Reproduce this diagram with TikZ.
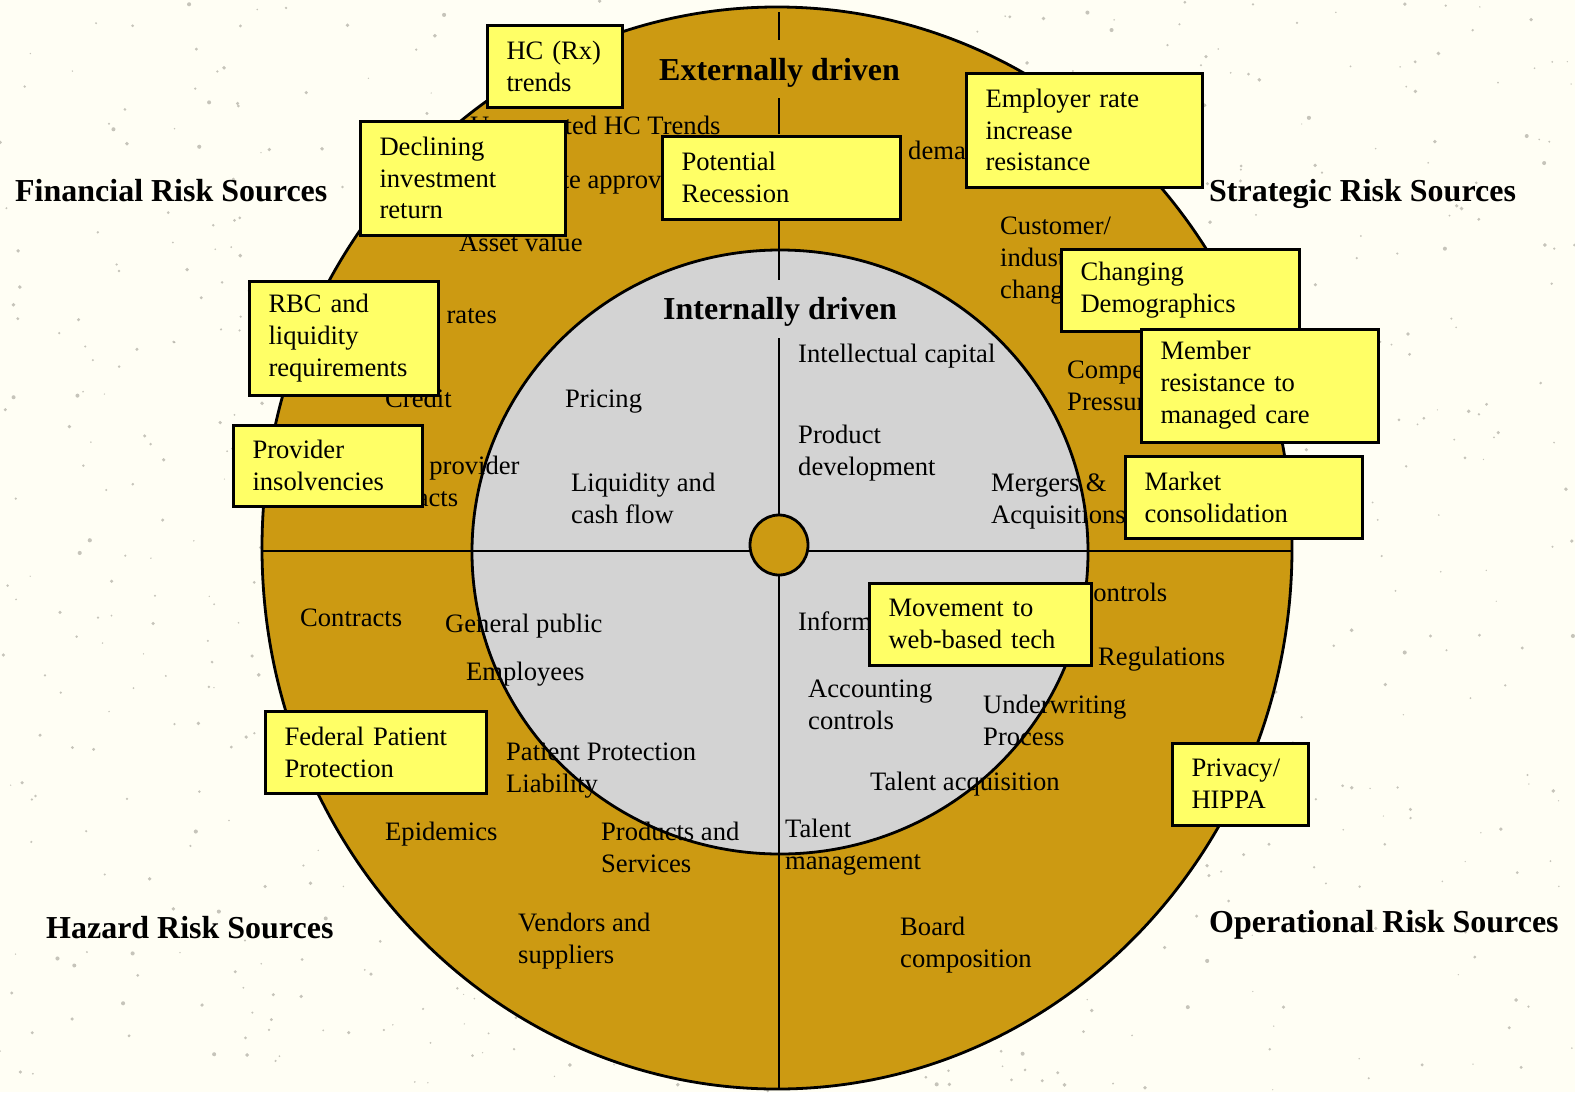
\documentclass[tikz,border=0pt]{standalone}
\usepackage{fontspec}
\setmainfont{Liberation Serif}
\definecolor{gold}{HTML}{CC9A12}
\definecolor{innergrey}{HTML}{D3D3D3}
\definecolor{boxyellow}{HTML}{FFFF66}
\definecolor{bgcream}{HTML}{FFFEF4}
\definecolor{speck}{HTML}{A09E94}
\begin{document}
\begin{tikzpicture}[x=1bp,y=-1bp,
  lbl/.style={font=\fontsize{26.7}{32}\selectfont, inner sep=0pt, anchor=base west, align=left},
  hd/.style={font=\bfseries\fontsize{32.1}{38}\selectfont, inner sep=0pt, anchor=base west},
  ln/.style={line width=2.8bp, draw=black},
  ybox/.style={draw=black, line width=3bp, fill=boxyellow, anchor=north west,
     font=\fontsize{26.7}{32}\selectfont, align=left, inner xsep=19.5bp, inner ysep=0pt}]
\useasboundingbox (0,0) rectangle (1575,1092);
\fill[bgcream] (0,0) rectangle (1575,1092);
% background speckles
\pgfmathsetseed{7}
\foreach \i in {1,...,900}{
  \pgfmathsetmacro\xx{rnd*1575}
  \pgfmathsetmacro\yy{rnd*1092}
  \pgfmathsetmacro\rr{0.6+rnd*1.5}
  \fill[speck, opacity=0.6] (\xx,\yy) circle[radius=\rr bp];
}
% rings
\draw[ln, fill=gold] (777,548) ellipse [x radius=515bp, y radius=541bp];
\draw[ln, fill=innergrey] (780,552) ellipse [x radius=308bp, y radius=302bp];
% axes
\draw[ln] (262,551) -- (1292,551);
\draw[ln] (779,12) -- (779,40);
\draw[ln] (779,98) -- (779,134);
\draw[ln] (779,218) -- (779,280);
\draw[ln] (779,338) -- (779,515);
\draw[ln] (779,575) -- (779,1089);
\draw[ln, fill=gold] (779,545) ellipse [x radius=29bp, y radius=30bp];

% headings
\node[hd] (ext) at (659,80) {Externally driven};
\node[hd] (int) at (663,319) {Internally driven};
\node[hd] (fin) at (15,201) {Financial Risk Sources};
\node[hd] (str) at (1209,201) {Strategic Risk Sources};
\node[hd] (haz) at (46,938) {Hazard Risk Sources};
\node[hd] (ops) at (1209,932) {Operational Risk Sources};

% financial (upper left)
\node[lbl] (t1) at (470,134) {Unexpected HC Trends};
\node[lbl] (t2) at (532,188) {Rate approval};
\node[lbl] (t3) at (459,251) {Asset value};
\node[lbl] (t4) at (360,323) {Interest rates};
\node[lbl] (t5) at (385,407) {Credit};
\node[lbl] (t6) at (362,506) {Other provider\\contracts};
\node[lbl] (t7) at (565,407) {Pricing};
\node[lbl] (t8) at (571,523) {Liquidity and\\cash flow};

% strategic (upper right)
\node[lbl] (s1) at (798,362) {Intellectual capital};
\node[lbl] (s2) at (798,475) {Product\\development};
\node[lbl] (s3) at (991,523) {Mergers \&\\Acquisitions};
\node[lbl] (s4) at (908,159) {demand};
\node[lbl] (s5) at (1000,298) {Customer/\\industry\\changes};
\node[lbl] (s6) at (1067,410) {Competitive\\Pressures};

% operational (lower right)
\node[lbl] (o1) at (798,630) {Information technology};
\node[lbl] (o2) at (808,729) {Accounting\\controls};
\node[lbl] (o3) at (983,745) {Underwriting\\Process};
\node[lbl] (o4) at (870,790) {Talent acquisition};
\node[lbl] (o5) at (785,869) {Talent\\management};
\node[lbl] (o6) at (992,601) {Internal controls};
\node[lbl] (o7) at (1098,665) {Regulations};
\node[lbl] (o8) at (900,967) {Board\\composition};

% hazard (lower left)
\node[lbl] (h1) at (300,626) {Contracts};
\node[lbl] (h2) at (445,632) {General public};
\node[lbl] (h3) at (466,680) {Employees};
\node[lbl] (h4) at (506,792) {Patient Protection\\Liability};
\node[lbl] (h5) at (385,840) {Epidemics};
\node[lbl] (h6) at (601,872) {Products and\\Services};
\node[lbl] (h7) at (518,963) {Vendors and\\suppliers};

% yellow boxes
\node[ybox, text width=96bp,  minimum height=82bp]  (hc)   at (485.5,23.5)  {HC (Rx)\\trends};
\node[ybox, text width=166bp, minimum height=114bp] (decl) at (358.5,119.5) {Declining\\investment\\return};
\node[ybox, text width=199bp, minimum height=83bp]  (rec)  at (660.5,134.5) {Potential\\Recession};
\node[ybox, text width=197bp, minimum height=114bp] (emp)  at (964.5,71.5)  {Employer rate\\increase\\resistance};
\node[ybox, text width=199bp, minimum height=82bp]  (demo) at (1059.5,247.5) {Changing\\Demographics};
\node[ybox, text width=198bp, minimum height=113bp] (memb) at (1139.5,327.5) {Member\\resistance to\\managed care};
\node[ybox, text width=198bp, minimum height=82bp]  (mkt)  at (1123.5,454.5) {Market\\consolidation};
\node[ybox, text width=150bp, minimum height=114bp] (rbc)  at (247.5,279.5) {RBC and\\liquidity\\requirements};
\node[ybox, text width=150bp, minimum height=81bp]  (prov) at (231.5,423.5) {Provider\\insolvencies};
\node[ybox, text width=183bp, minimum height=82bp]  (web)  at (867.5,581.5) {Movement to\\web-based tech};
\node[ybox, text width=182bp, minimum height=82bp]  (fed)  at (263.5,709.5) {Federal Patient\\Protection};
\node[ybox, text width=97bp,  minimum height=82bp]  (priv) at (1170.5,741.5) {Privacy/\\HIPPA};
\end{tikzpicture}
\end{document}
